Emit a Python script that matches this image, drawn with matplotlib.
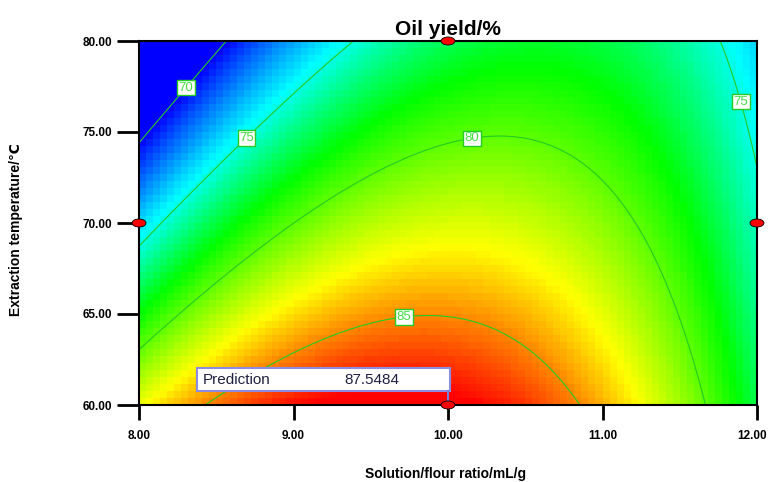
import numpy as np
import matplotlib
matplotlib.use("Agg")
import matplotlib.pyplot as plt
import matplotlib.transforms as mtransforms
from matplotlib.colors import LinearSegmentedColormap
from matplotlib.patches import Ellipse, Rectangle

plt.rcParams["font.family"] = ["Liberation Sans", "DejaVu Sans"]

# quadratic response-surface model in coded units (A = ratio, B = temperature),
# coefficients estimated from the contours in the picture
coef_names = ["Intercept", "A", "B", "AB", "A^2", "B^2"]
coef_values = [82.3, 0.82, -5.25, 3.55, -7.6, 0.0]

ratio_range = [8.0, 12.0]
temp_range = [60.0, 80.0]
x_ticks = [8.00, 9.00, 10.00, 11.00, 12.00]
y_ticks = [60.00, 65.00, 70.00, 75.00, 80.00]
contour_levels = [70, 75, 80, 85]
design_x = [10.0, 8.0, 12.0, 10.0]
design_y = [80.0, 70.0, 70.0, 60.0]
pred_x = 10.0
pred_y = 60.0
pred_value = "87.5484"


def oil_yield(x, y):
    b0, b1, b2, b12, b11, b22 = coef_values
    A = (x - 10.0) / 2.0
    B = (y - 70.0) / 10.0
    return b0 + b1 * A + b2 * B + b12 * A * B + b11 * A ** 2 + b22 * B ** 2


# Design-Expert style colour ramp: blue -> cyan -> green -> yellow -> red
vmin, vmax = 65.0, 87.8
stops = [65.0, 70.0, 74.6, 78.3, 83.0, 87.3, 87.8]
stop_colors = ["#0000ff", "#0000ff", "#00ffff", "#00ff00", "#ffff00", "#ff0000", "#ff0000"]
cmap = LinearSegmentedColormap.from_list(
    "dx", [((s - vmin) / (vmax - vmin), c) for s, c in zip(stops, stop_colors)])

fig = plt.figure(figsize=(7.69, 4.82), dpi=100)
ax = fig.add_axes([139 / 769, 1 - 405 / 482, 618 / 769, 364 / 482])

# blocky colour cells like the original
xe = np.linspace(ratio_range[0], ratio_range[1], 89)
ye = np.linspace(temp_range[0], temp_range[1], 53)
xc = (xe[:-1] + xe[1:]) / 2
yc = (ye[:-1] + ye[1:]) / 2
Z = oil_yield(*np.meshgrid(xc, yc))
ax.pcolormesh(xe, ye, Z, cmap=cmap, shading="flat", antialiased=False,
              vmin=vmin, vmax=vmax)

# smooth contour lines
xf = np.linspace(ratio_range[0], ratio_range[1], 300)
yf = np.linspace(temp_range[0], temp_range[1], 300)
XF, YF = np.meshgrid(xf, yf)
cs = ax.contour(XF, YF, oil_yield(XF, YF), levels=contour_levels,
                colors="#22cc22", linewidths=0.8)
label_pos = [(8.28, 77.6), (8.67, 74.9), (11.87, 76.6), (10.15, 74.8), (9.71, 65.2)]
labels = ax.clabel(cs, manual=label_pos, inline=False, fmt="%d", fontsize=9.5,
                   colors="#44dd44")
for t in labels:
    t.set_rotation(0)
    t.set_bbox(dict(boxstyle="square,pad=0.12", fc="white", ec="#22cc22", lw=1))
    t.set_zorder(5)

# design points
for dx, dy in zip(design_x, design_y):
    ax.add_patch(Ellipse((dx, dy), 0.09, 0.44, fc="red", ec="black", lw=0.6,
                         clip_on=False, zorder=8))

# prediction flag
ax.add_patch(Rectangle((8.375, 60.75), 10.01 - 8.375, 1.28, fc="white",
                       ec="#8c8ce0", lw=1.5, zorder=6))
ax.plot([pred_x, pred_x], [pred_y, 60.75], color="#7b7bd8", lw=1.5, zorder=7)
ax.text(8.41, 61.4, "Prediction", fontsize=11, color="#202040",
        va="center", ha="left", zorder=7)
ax.text(9.33, 61.4, pred_value, fontsize=11, color="#202040",
        va="center", ha="left", zorder=7)

ax.set_xlim(ratio_range)
ax.set_ylim(temp_range)
ax.set_xticks(x_ticks)
ax.set_yticks(y_ticks)
ax.set_xticklabels(["%.2f" % v for v in x_ticks], fontsize=8.5, fontweight="bold")
ax.set_yticklabels(["%.2f" % v for v in y_ticks], fontsize=8.5, fontweight="bold")
ax.tick_params(axis="x", length=11, width=2, pad=7)
ax.tick_params(axis="y", length=16, width=2, pad=3.5)
for s in ax.spines.values():
    s.set_linewidth(1.5)

# keep the last x tick label inside the figure
last = ax.get_xticklabels()[-1]
last.set_horizontalalignment("right")
last.set_transform(last.get_transform() +
                   mtransforms.ScaledTranslation(10 / 100, 0, fig.dpi_scale_trans))

ax.set_title("Oil yield/%", fontsize=15, fontweight="bold", pad=4)
fig.text(446 / 769, 1 - 474 / 482, "Solution/flour ratio/mL/g", fontsize=10,
         fontweight="bold", ha="center", va="center")
fig.text(16 / 769, 1 - 230 / 482, "Extraction temperature/℃", fontsize=10,
         fontweight="bold", ha="center", va="center", rotation=90)

fig.savefig("out.png", dpi=100)
